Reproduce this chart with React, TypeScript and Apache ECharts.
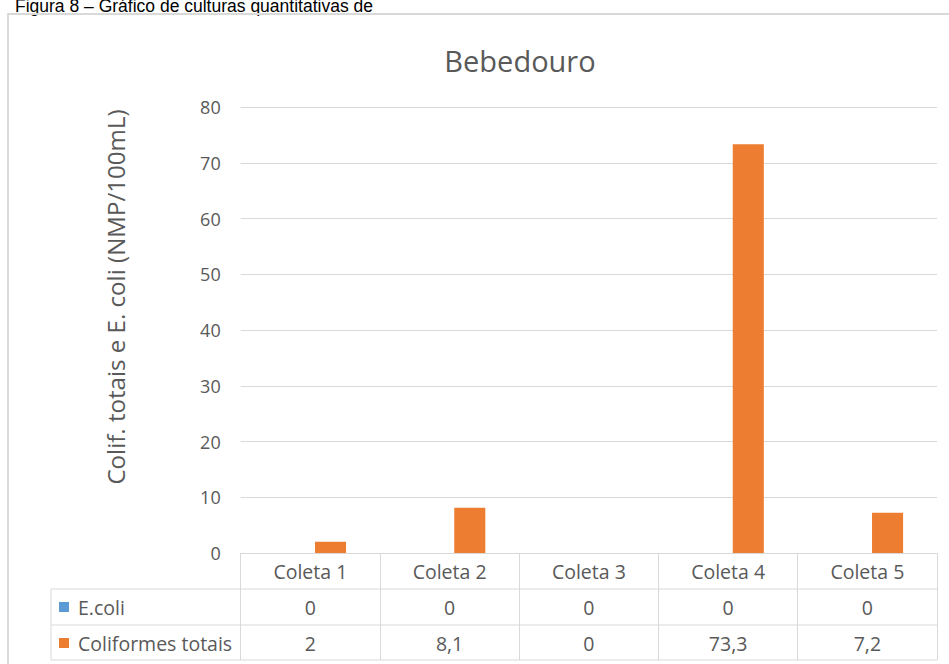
import React, { useEffect, useRef } from "react";
import * as echarts from "echarts";

const caption = "Figura 8 – Gráfico de culturas quantitativas de";
const chartTitle = "Bebedouro";
const yAxisTitle = "Colif. totais e E. coli (NMP/100mL)";
const categories = ["Coleta 1", "Coleta 2", "Coleta 3", "Coleta 4", "Coleta 5"];
const seriesNames = ["E.coli", "Coliformes totais"];
const eColi = [0, 0, 0, 0, 0];
const coliformesTotais = [2, 8.1, 0, 73.3, 7.2];
const yMin = 0;
const yMax = 80;
const yStep = 10;

const FONT = "'Open Sans', sans-serif";
const GRAY_TEXT = "#595959";
const LINE = "#d9d9d9";

const fmt = (v: number) => String(v).replace(".", ",");

export default function App() {
  const ref = useRef<HTMLDivElement>(null);
  useEffect(() => {
    if (!ref.current) return;
    const chart = echarts.init(ref.current, null, { renderer: "svg" });
    const gridLeft = 240.7;
    const gridRight = 937;
    const tableLeft = 51;
    const rowLines = [589, 625, 660];
    chart.setOption({
      animation: false,
      backgroundColor: "#ffffff",
      grid: { left: gridLeft, right: 949 - gridRight, top: 107, bottom: 111, outerBoundsMode: "none" },
      legend: {
        orient: "vertical",
        left: 59,
        top: 589,
        padding: 0,
        itemGap: 0,
        itemWidth: 10,
        itemHeight: 10,
        icon: "rect",
        selectedMode: false,
        data: seriesNames,
        textStyle: { fontFamily: FONT, fontSize: 19.5, color: GRAY_TEXT, lineHeight: 36, padding: [0, 0, 0, 4] },
      },
      xAxis: {
        type: "category",
        data: categories,
        axisLine: { show: true, lineStyle: { color: LINE, width: 1 } },
        axisTick: { show: true, length: 107, lineStyle: { color: LINE, width: 1 } },
        axisLabel: {
          interval: 0,
          margin: 0,
          color: GRAY_TEXT,
          fontFamily: FONT,
          fontSize: 19.5,
          lineHeight: 36,
          formatter: (v: string, i: number) => `${v}\n${fmt(eColi[i])}\n${fmt(coliformesTotais[i])}`,
        },
      },
      yAxis: {
        type: "value",
        min: yMin,
        max: yMax,
        interval: yStep,
        axisLine: { show: false },
        axisTick: { show: false },
        splitLine: { lineStyle: { color: LINE, width: 1 } },
        axisLabel: { color: GRAY_TEXT, fontFamily: FONT, fontSize: 18, margin: 20 },
      },
      series: [
        { name: seriesNames[0], type: "bar", data: eColi, barWidth: "22.3%", barGap: "30%", itemStyle: { color: "#5B9BD5" } },
        { name: seriesNames[1], type: "bar", data: coliformesTotais, barWidth: "22.3%", barGap: "30%", itemStyle: { color: "#ED7D31" } },
      ],
      graphic: [
        {
          type: "text",
          x: 15,
          y: 5.5,
          style: { text: caption, fontFamily: "'Liberation Sans', Arial, sans-serif", fontSize: 17.5, fill: "#000000", verticalAlign: "middle" },
        },
        {
          type: "rect",
          shape: { x: 8, y: 14, width: 980, height: 700 },
          style: { fill: "none", stroke: LINE, lineWidth: 2 },
        },
        {
          type: "text",
          x: 520,
          y: 60,
          style: { text: chartTitle, fontFamily: FONT, fontSize: 29, fill: GRAY_TEXT, align: "center", verticalAlign: "middle" },
        },
        {
          type: "text",
          x: 115,
          y: 297,
          rotation: Math.PI / 2,
          style: { text: yAxisTitle, fontFamily: FONT, fontSize: 24.1, fill: GRAY_TEXT, align: "center", verticalAlign: "middle" },
        },
        ...rowLines.map((y) => ({
          type: "line",
          shape: { x1: tableLeft, y1: y, x2: gridRight, y2: y },
          style: { stroke: LINE, lineWidth: 1 },
        })),
        {
          type: "line",
          shape: { x1: tableLeft, y1: rowLines[0], x2: tableLeft, y2: rowLines[2] },
          style: { stroke: LINE, lineWidth: 1 },
        },
      ],
    });
    return () => chart.dispose();
  }, []);
  return <div ref={ref} style={{ position: "fixed", left: 0, top: 0, width: 949, height: 664 }} />;
}
